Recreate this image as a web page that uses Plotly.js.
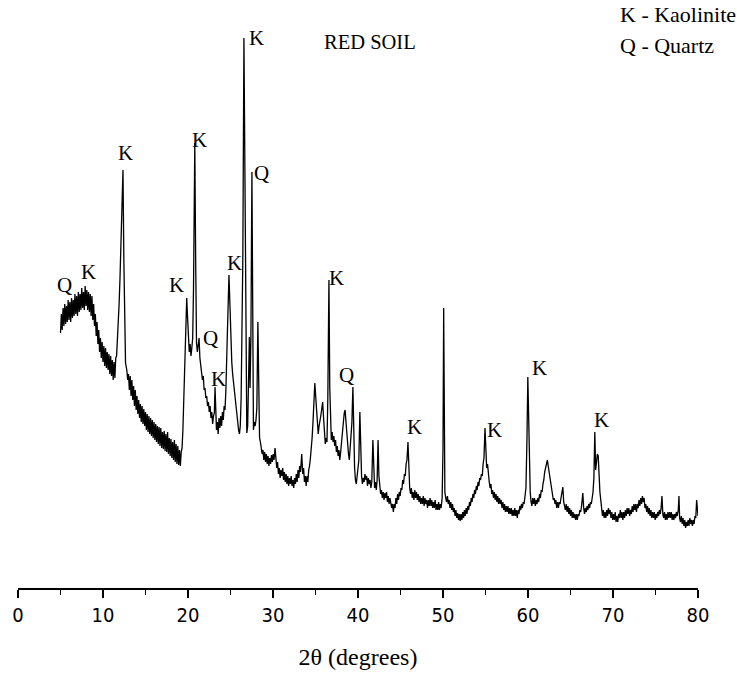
<!DOCTYPE html>
<html>
<head>
<meta charset="utf-8">
<script src="https://cdn.plot.ly/plotly-3.0.1.min.js"></script>
<style>html,body{margin:0;padding:0;background:#fff;}#chart{width:737px;height:673px;}</style>
</head>
<body>
<div id="chart"></div>
<script>
// XRD pattern of red soil (intensity in arbitrary units)
const twoTheta = [
5.00,5.10,5.20,5.30,5.40,5.50,5.60,5.70,5.80,5.90,
6.00,6.10,6.20,6.30,6.40,6.50,6.60,6.70,6.80,6.90,
7.00,7.10,7.20,7.30,7.40,7.50,7.60,7.70,7.80,7.90,
8.00,8.10,8.20,8.30,8.40,8.50,8.60,8.70,8.80,8.90,
9.00,9.10,9.20,9.30,9.40,9.50,9.60,9.70,9.80,9.90,
10.00,10.10,10.20,10.30,10.40,10.50,10.60,10.70,10.80,10.90,
11.00,11.10,11.20,11.30,11.40,11.50,11.60,11.70,11.80,11.90,
12.00,12.10,12.20,12.35,12.45,12.55,12.65,12.80,12.90,13.00,
13.10,13.20,13.30,13.40,13.50,13.60,13.70,13.80,13.90,14.00,
14.10,14.20,14.30,14.40,14.50,14.60,14.70,14.80,14.90,15.00,
15.10,15.20,15.30,15.40,15.50,15.60,15.70,15.80,15.90,16.00,
16.10,16.20,16.30,16.40,16.50,16.60,16.70,16.80,16.90,17.00,
17.10,17.20,17.30,17.40,17.50,17.60,17.70,17.80,17.90,18.00,
18.10,18.20,18.30,18.40,18.50,18.60,18.70,18.80,18.90,19.00,
19.10,19.20,19.30,19.40,19.50,19.60,19.70,19.85,19.95,20.05,
20.15,20.25,20.35,20.45,20.55,20.65,20.80,20.90,21.00,21.10,
21.20,21.30,21.40,21.50,21.60,21.70,21.80,21.90,22.00,22.10,
22.20,22.30,22.40,22.50,22.60,22.70,22.80,22.90,23.00,23.10,
23.18,23.25,23.35,23.45,23.55,23.65,23.75,23.85,23.95,24.05,
24.15,24.25,24.35,24.45,24.55,24.65,24.82,24.95,25.05,25.15,
25.25,25.35,25.45,25.55,25.65,25.75,25.85,25.95,26.05,26.15,
26.25,26.35,26.45,26.58,26.68,26.74,26.82,26.92,27.02,27.12,
27.22,27.30,27.40,27.52,27.62,27.70,27.80,27.90,28.00,28.10,
28.22,28.32,28.42,28.52,28.62,28.72,28.82,28.92,29.02,29.12,
29.22,29.32,29.42,29.52,29.62,29.72,29.82,29.92,30.02,30.12,
30.24,30.34,30.44,30.54,30.64,30.74,30.84,30.94,31.04,31.14,
31.24,31.34,31.44,31.54,31.64,31.74,31.84,31.94,32.04,32.14,
32.24,32.34,32.44,32.54,32.64,32.74,32.84,32.94,33.04,33.14,
33.24,33.38,33.50,33.60,33.70,33.80,33.90,34.00,34.10,34.20,
34.30,34.40,34.50,34.60,34.70,34.80,34.92,35.02,35.12,35.22,
35.32,35.42,35.52,35.62,35.72,35.84,35.95,36.05,36.15,36.25,
36.35,36.45,36.58,36.68,36.76,36.86,36.96,37.06,37.16,37.26,
37.36,37.46,37.56,37.66,37.76,37.86,37.96,38.06,38.16,38.26,
38.38,38.48,38.58,38.68,38.78,38.88,38.98,39.08,39.18,39.28,
39.40,39.50,39.60,39.70,39.80,39.90,40.00,40.10,40.22,40.32,
40.42,40.52,40.62,40.72,40.82,40.92,41.02,41.12,41.22,41.32,
41.42,41.52,41.62,41.75,41.85,41.95,42.05,42.15,42.25,42.36,
42.46,42.56,42.66,42.76,42.86,42.96,43.06,43.16,43.26,43.36,
43.46,43.56,43.66,43.76,43.86,43.96,44.06,44.16,44.26,44.36,
44.46,44.56,44.66,44.76,44.86,44.96,45.06,45.16,45.26,45.36,
45.46,45.56,45.66,45.76,45.88,45.98,46.08,46.18,46.28,46.38,
46.48,46.58,46.68,46.78,46.88,46.98,47.08,47.18,47.28,47.38,
47.48,47.58,47.68,47.78,47.88,47.98,48.08,48.18,48.28,48.38,
48.48,48.58,48.68,48.78,48.88,48.98,49.08,49.18,49.28,49.38,
49.48,49.58,49.68,49.78,49.90,50.00,50.08,50.14,50.22,50.32,
50.42,50.52,50.62,50.72,50.82,50.92,51.02,51.12,51.22,51.32,
51.42,51.52,51.62,51.72,51.82,51.92,52.02,52.12,52.22,52.32,
52.42,52.52,52.62,52.72,52.82,52.92,53.02,53.12,53.22,53.32,
53.42,53.52,53.62,53.72,53.82,53.92,54.02,54.12,54.22,54.32,
54.42,54.52,54.62,54.72,54.82,54.94,55.04,55.14,55.24,55.34,
55.44,55.54,55.64,55.74,55.84,55.94,56.04,56.14,56.24,56.34,
56.44,56.54,56.64,56.74,56.84,56.94,57.04,57.14,57.24,57.34,
57.44,57.54,57.64,57.74,57.84,57.94,58.04,58.14,58.24,58.34,
58.44,58.54,58.64,58.74,58.84,58.94,59.04,59.14,59.24,59.34,
59.44,59.54,59.64,59.76,59.88,59.98,60.08,60.16,60.26,60.36,
60.46,60.56,60.66,60.76,60.86,60.96,61.06,61.16,61.26,61.36,
61.46,61.56,61.66,61.76,61.86,61.96,62.06,62.16,62.28,62.38,
62.48,62.58,62.68,62.78,62.88,62.98,63.08,63.18,63.28,63.38,
63.48,63.58,63.68,63.78,63.88,64.00,64.10,64.20,64.30,64.40,
64.50,64.60,64.70,64.80,64.90,65.00,65.10,65.20,65.30,65.40,
65.50,65.60,65.70,65.80,65.90,66.00,66.10,66.20,66.30,66.45,
66.55,66.65,66.75,66.85,66.95,67.05,67.15,67.25,67.35,67.45,
67.55,67.65,67.75,67.86,67.96,68.06,68.16,68.26,68.36,68.46,
68.56,68.66,68.76,68.86,68.96,69.06,69.16,69.26,69.36,69.46,
69.56,69.66,69.76,69.86,69.96,70.06,70.16,70.26,70.36,70.46,
70.56,70.66,70.76,70.86,70.96,71.06,71.16,71.26,71.36,71.46,
71.56,71.66,71.76,71.86,71.96,72.06,72.16,72.26,72.36,72.46,
72.56,72.66,72.76,72.86,72.96,73.06,73.16,73.26,73.36,73.46,
73.56,73.66,73.76,73.86,73.96,74.06,74.16,74.26,74.36,74.46,
74.56,74.66,74.76,74.86,74.96,75.06,75.16,75.26,75.36,75.46,
75.56,75.66,75.76,75.86,75.96,76.06,76.16,76.26,76.36,76.46,
76.56,76.66,76.76,76.86,76.96,77.06,77.16,77.26,77.36,77.46,
77.56,77.68,77.76,77.84,77.94,78.04,78.14,78.24,78.34,78.44,
78.54,78.64,78.74,78.84,78.94,79.04,79.14,79.24,79.34,79.44,
79.54,79.64,79.74,79.84,79.92,80.00
];
const intensity = [
255,274,258,280,262,284,264,282,266,288,
268,286,266,290,270,288,272,294,274,292,
272,296,276,294,278,300,280,296,278,302,
282,298,278,296,276,294,272,292,268,284,
262,274,252,266,244,258,236,250,230,246,
226,242,222,240,220,236,218,234,214,232,
212,228,208,226,210,230,232,246,262,285,
310,340,380,418,330,260,225,218,208,214,
198,212,192,208,188,202,182,198,178,192,
174,188,170,184,166,182,164,179,162,176,
158,174,156,172,154,170,152,168,150,166,
148,164,146,162,144,161,142,160,140,156,
139,157,137,154,136,156,134,150,132,149,
130,146,128,148,126,144,124,142,123,138,
122,136,140,158,190,235,262,290,270,250,
236,244,232,240,250,300,445,330,245,236,
244,250,230,222,214,208,212,198,200,190,
192,182,186,176,182,170,176,164,172,175,
201,170,158,166,154,170,160,172,162,176,
168,182,178,196,220,260,313,270,240,226,
214,206,194,186,178,172,164,158,154,162,
190,248,330,550,400,345,240,155,162,220,
251,200,250,416,250,158,166,162,168,180,
266,190,150,146,140,134,138,128,136,126,
134,124,132,122,130,124,133,126,134,128,
140,126,120,126,114,120,110,118,112,120,
108,116,106,114,104,112,102,110,104,112,
102,108,100,110,104,114,106,118,110,122,
116,134,114,120,106,112,102,112,106,118,
122,130,138,150,165,180,205,192,176,160,
154,162,166,172,178,186,170,154,144,150,
146,190,308,200,160,148,156,146,152,142,
148,136,142,132,138,128,136,146,156,166,
175,178,164,150,140,134,128,138,150,165,
201,150,120,108,104,112,118,128,176,135,
112,104,110,106,114,108,112,102,110,104,
108,100,106,148,110,100,106,98,108,148,
112,100,94,98,90,96,88,95,90,96,
86,92,84,90,86,80,84,76,84,80,
90,84,94,88,96,92,100,98,108,104,
114,112,124,128,146,112,100,94,100,90,
96,88,98,90,96,88,94,86,92,84,
90,84,92,82,90,84,88,80,88,82,
90,82,88,80,86,80,88,78,84,78,
86,78,84,80,90,140,280,200,96,90,
86,92,84,88,80,86,78,84,76,80,
72,78,70,75,68,74,67,74,68,76,
70,78,72,80,74,82,78,86,82,90,
86,94,90,98,94,102,98,106,102,110,
108,114,112,124,130,160,130,120,124,110,
106,100,104,94,98,90,96,88,94,86,
92,84,90,84,88,80,86,78,84,76,
82,76,82,74,80,74,80,72,78,72,
80,72,78,70,78,74,82,78,84,80,
86,84,90,100,150,211,170,130,96,86,
82,90,84,90,82,88,84,90,86,94,
90,98,96,104,108,116,120,124,128,122,
116,108,102,96,92,88,90,84,88,80,
86,80,86,84,90,96,101,86,82,78,
84,76,82,74,80,72,78,70,76,70,
74,68,74,68,74,72,78,76,82,95,
80,74,80,76,82,78,84,80,86,84,
90,96,110,156,118,128,134,132,108,96,
88,78,72,78,70,76,70,78,72,80,
74,78,70,76,68,74,68,76,66,72,
66,74,70,78,70,76,68,76,70,78,
72,80,74,80,72,78,74,82,76,84,
78,84,76,84,80,88,82,90,84,92,
86,90,80,84,76,82,74,80,72,78,
70,76,70,76,68,74,70,76,72,78,
74,80,92,74,70,76,68,74,68,76,
70,76,70,76,68,74,68,74,70,76,
72,78,92,70,66,72,64,70,62,68,
60,66,62,68,62,70,64,68,62,68,
64,72,70,88,80,72
];

// Phase labels over the peaks
const peakLabels = ["Q","K","K","K","K","Q","K","K","K","Q","K","Q","K","K","K","K"];
const labelTheta = [5.5,8.3,12.7,21.3,18.7,22.7,23.6,25.5,28.1,28.6,37.5,38.7,46.6,56.0,61.3,68.6];
const labelIntensity = [303,316,435,448,303,250,209,325,550,415,310,213,161,158,220,168];

const sampleName = "RED SOIL";
const legendLines = ["K - Kaolinite", "Q - Quartz"];
const xTickValues = [0,10,20,30,40,50,60,70,80];

if (twoTheta.length !== intensity.length) console.warn("length mismatch", twoTheta.length, intensity.length);

const serif = "Liberation Serif, Times New Roman, serif";

const annotations = peakLabels.map((t, i) => ({
  x: labelTheta[i], y: labelIntensity[i], xref: "x", yref: "y",
  text: t, showarrow: false, font: {family: serif, size: 21, color: "#000"}
}));
annotations.push({
  x: 41.4, y: 546, xref: "x", yref: "y", text: sampleName, showarrow: false,
  font: {family: serif, size: 20.5, color: "#000"}
});
legendLines.forEach((t, i) => annotations.push({
  x: 0.883, y: i === 0 ? 1.034 : 0.978, xref: "paper", yref: "paper",
  xanchor: "left", yanchor: "middle", text: t, showarrow: false,
  font: {family: serif, size: 22, color: "#000"}
}));

const data = [{
  x: twoTheta, y: intensity, type: "scatter", mode: "lines",
  line: {color: "#000", width: 1.3}, hoverinfo: "skip"
}];

const layout = {
  width: 737, height: 673,
  margin: {l: 18, r: 39, t: 33, b: 85},
  paper_bgcolor: "#fff", plot_bgcolor: "#fff",
  showlegend: false,
  xaxis: {
    range: [0, 80], tickvals: xTickValues, ticktext: xTickValues.map(String),
    showline: true, linecolor: "#000", linewidth: 1.5,
    ticks: "outside", ticklen: 8, tickwidth: 1.5, tickcolor: "#000",
    minor: {dtick: 5, ticks: "outside", ticklen: 5, tickwidth: 1.5, tickcolor: "#000"},
    showgrid: false, zeroline: false,
    tickfont: {family: "DejaVu Sans Condensed, Liberation Sans Narrow, sans-serif", size: 20, color: "#000"},
    title: {text: "2θ (degrees)", font: {family: serif, size: 24, color: "#000"}, standoff: 22}
  },
  yaxis: {range: [0, 555], visible: false, showgrid: false, zeroline: false},
  annotations: annotations
};

Plotly.newPlot("chart", data, layout, {displayModeBar: false, staticPlot: true});
</script>
</body>
</html>
